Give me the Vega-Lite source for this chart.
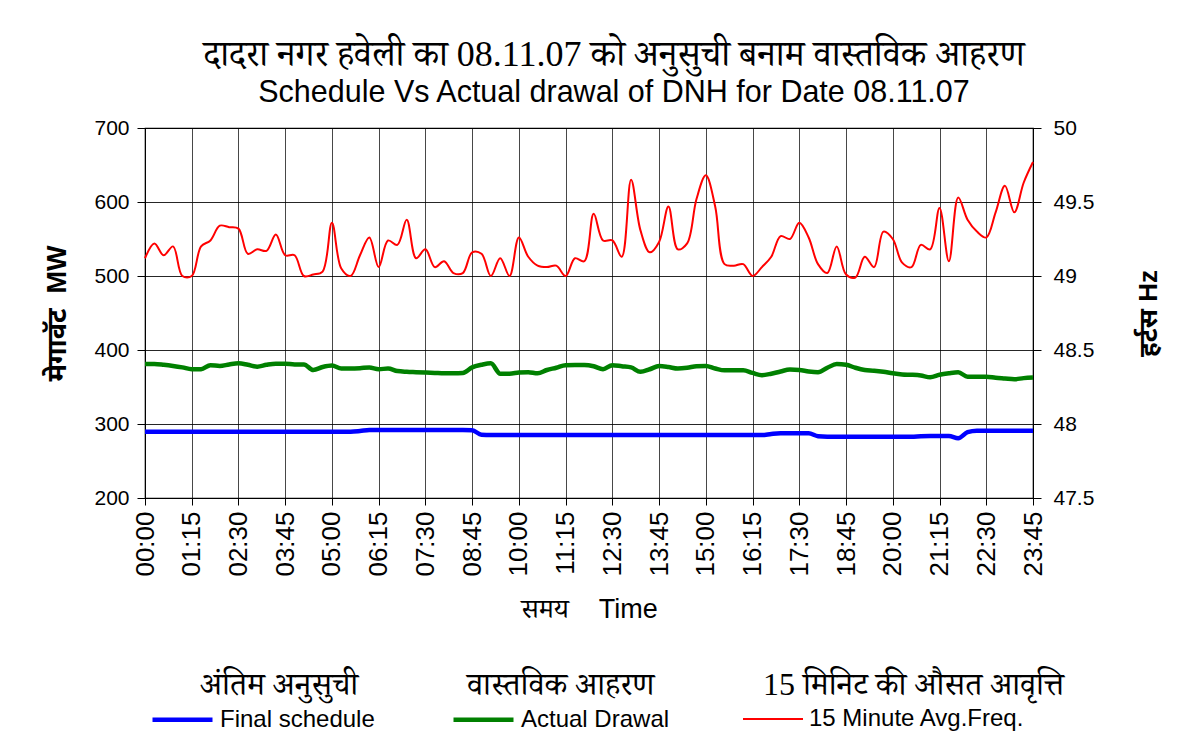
{
  "$schema": "https://vega.github.io/schema/vega-lite/v6.json",
  "width": 888,
  "height": 370,
  "autosize": {"type": "none"},
  "padding": {"left": 145, "top": 128, "right": 160, "bottom": 258},
  "background": "white",
  "config": {
    "view": {"stroke": "#000", "strokeWidth": 1.2},
    "axis": {"domainColor": "#000", "tickColor": "#000", "labelColor": "#000", "titleColor": "#000", "gridColor": "#000", "gridWidth": 1, "gridOpacity": 0.85, "labelFont": "Liberation Sans", "labelFontSize": 21, "labelFontWeight": "normal"}
  },
  "title": {
    "text": "दादरा नगर हवेली का 08.11.07 को अनुसुची बनाम वास्तविक आहरण",
    "subtitle": "Schedule Vs Actual drawal of DNH for Date 08.11.07",
    "font": "Liberation Serif, Noto Serif Devanagari, serif",
    "fontSize": 36,
    "fontWeight": "normal",
    "color": "#000",
    "subtitleFont": "Liberation Sans",
    "subtitleFontSize": 30.5,
    "subtitleColor": "#000",
    "subtitlePadding": 4,
    "anchor": "middle",
    "dx": 25,
    "offset": 8
  },
  "datasets": {
    "names": [
      {"k": "s", "hi": "अंतिम अनुसुची"},
      {"k": "a", "hi": "वास्तविक आहरण"},
      {"k": "f", "hi": "15 मिनिट की औसत आवृत्ति"}
    ]
  },
  "data": {"values": [
    {"t":"00:00","s":289.6,"a":381,"f":49.12},
    {"t":"00:15","s":289.6,"a":381,"f":49.22},
    {"t":"00:30","s":289.6,"a":380,"f":49.14},
    {"t":"00:45","s":289.6,"a":378.5,"f":49.20},
    {"t":"01:00","s":289.6,"a":376.5,"f":49.0},
    {"t":"01:15","s":289.6,"a":374,"f":49.0},
    {"t":"01:30","s":289.6,"a":374,"f":49.20},
    {"t":"01:45","s":289.6,"a":379.5,"f":49.24},
    {"t":"02:00","s":289.6,"a":378.5,"f":49.34},
    {"t":"02:15","s":289.6,"a":380.5,"f":49.33},
    {"t":"02:30","s":289.6,"a":382,"f":49.32},
    {"t":"02:45","s":289.6,"a":380,"f":49.15},
    {"t":"03:00","s":289.6,"a":377.5,"f":49.18},
    {"t":"03:15","s":289.6,"a":380,"f":49.17},
    {"t":"03:30","s":289.6,"a":381.5,"f":49.28},
    {"t":"03:45","s":289.6,"a":381.5,"f":49.14},
    {"t":"04:00","s":289.6,"a":380.5,"f":49.14},
    {"t":"04:15","s":289.6,"a":380.5,"f":49.0},
    {"t":"04:30","s":289.6,"a":373,"f":49.01},
    {"t":"04:45","s":289.6,"a":377,"f":49.03},
    {"t":"05:00","s":289.6,"a":379,"f":49.36},
    {"t":"05:15","s":289.6,"a":375,"f":49.05},
    {"t":"05:30","s":289.6,"a":375,"f":49.0},
    {"t":"05:45","s":290.5,"a":375.5,"f":49.14},
    {"t":"06:00","s":291.9,"a":376.5,"f":49.26},
    {"t":"06:15","s":291.9,"a":374,"f":49.06},
    {"t":"06:30","s":291.9,"a":375,"f":49.24},
    {"t":"06:45","s":291.9,"a":371.5,"f":49.21},
    {"t":"07:00","s":291.9,"a":370.5,"f":49.38},
    {"t":"07:15","s":291.9,"a":370,"f":49.12},
    {"t":"07:30","s":291.9,"a":369.5,"f":49.18},
    {"t":"07:45","s":291.9,"a":369,"f":49.06},
    {"t":"08:00","s":291.9,"a":368.5,"f":49.10},
    {"t":"08:15","s":291.9,"a":368.5,"f":49.02},
    {"t":"08:30","s":291.9,"a":369,"f":49.02},
    {"t":"08:45","s":291.5,"a":376.5,"f":49.16},
    {"t":"09:00","s":285.5,"a":380,"f":49.15},
    {"t":"09:15","s":285.1,"a":382,"f":49.0},
    {"t":"09:30","s":285.1,"a":368,"f":49.12},
    {"t":"09:45","s":285.1,"a":368,"f":49.0},
    {"t":"10:00","s":285.1,"a":369.5,"f":49.26},
    {"t":"10:15","s":285.1,"a":370,"f":49.13},
    {"t":"10:30","s":285.1,"a":368.5,"f":49.07},
    {"t":"10:45","s":285.1,"a":373,"f":49.06},
    {"t":"11:00","s":285.1,"a":376,"f":49.07},
    {"t":"11:15","s":285.1,"a":379.5,"f":49.0},
    {"t":"11:30","s":285.1,"a":379.7,"f":49.12},
    {"t":"11:45","s":285.1,"a":379.7,"f":49.10},
    {"t":"12:00","s":285.1,"a":378,"f":49.42},
    {"t":"12:15","s":285.1,"a":374,"f":49.24},
    {"t":"12:30","s":285.1,"a":379.5,"f":49.24},
    {"t":"12:45","s":285.1,"a":378,"f":49.13},
    {"t":"13:00","s":285.1,"a":376.5,"f":49.65},
    {"t":"13:15","s":285.1,"a":370.5,"f":49.31},
    {"t":"13:30","s":285.1,"a":374,"f":49.16},
    {"t":"13:45","s":285.1,"a":378.3,"f":49.23},
    {"t":"14:00","s":285.1,"a":377,"f":49.47},
    {"t":"14:15","s":285.1,"a":375,"f":49.18},
    {"t":"14:30","s":285.1,"a":376,"f":49.22},
    {"t":"14:45","s":285.1,"a":378,"f":49.52},
    {"t":"15:00","s":285.1,"a":378.5,"f":49.68},
    {"t":"15:15","s":285.1,"a":375,"f":49.47},
    {"t":"15:30","s":285.1,"a":372.5,"f":49.08},
    {"t":"15:45","s":285.1,"a":372.5,"f":49.07},
    {"t":"16:00","s":285.1,"a":372.5,"f":49.08},
    {"t":"16:15","s":285.1,"a":369,"f":49.0},
    {"t":"16:30","s":285.1,"a":366,"f":49.06},
    {"t":"16:45","s":286.5,"a":368,"f":49.13},
    {"t":"17:00","s":287.4,"a":371,"f":49.27},
    {"t":"17:15","s":287.4,"a":373.5,"f":49.25},
    {"t":"17:30","s":287.4,"a":373,"f":49.36},
    {"t":"17:45","s":287.4,"a":371,"f":49.26},
    {"t":"18:00","s":283.5,"a":370,"f":49.08},
    {"t":"18:15","s":282.9,"a":376,"f":49.02},
    {"t":"18:30","s":282.9,"a":381,"f":49.20},
    {"t":"18:45","s":282.9,"a":380,"f":49.01},
    {"t":"19:00","s":282.9,"a":376,"f":48.99},
    {"t":"19:15","s":282.9,"a":373,"f":49.13},
    {"t":"19:30","s":282.9,"a":372,"f":49.06},
    {"t":"19:45","s":282.9,"a":370.5,"f":49.30},
    {"t":"20:00","s":282.9,"a":368.5,"f":49.25},
    {"t":"20:15","s":282.9,"a":367,"f":49.09},
    {"t":"20:30","s":282.9,"a":366.5,"f":49.06},
    {"t":"20:45","s":283.5,"a":365.5,"f":49.21},
    {"t":"21:00","s":283.8,"a":363.2,"f":49.18},
    {"t":"21:15","s":283.8,"a":366.5,"f":49.46},
    {"t":"21:30","s":283.8,"a":368.5,"f":49.10},
    {"t":"21:45","s":280.8,"a":369.8,"f":49.53},
    {"t":"22:00","s":289,"a":364,"f":49.38},
    {"t":"22:15","s":291,"a":364,"f":49.30},
    {"t":"22:30","s":291,"a":364,"f":49.26},
    {"t":"22:45","s":291,"a":362.5,"f":49.43},
    {"t":"23:00","s":291,"a":361.5,"f":49.61},
    {"t":"23:15","s":291,"a":360.5,"f":49.43},
    {"t":"23:30","s":291,"a":362,"f":49.63},
    {"t":"23:45","s":291,"a":362.7,"f":49.77}
  ]},
  "encoding": {
    "x": {
      "field": "t", "type": "ordinal",
      "scale": {"type": "point", "padding": 0},
      "axis": {
        "labelExpr": "(toNumber(slice(datum.value, 0, 2)) * 4 + toNumber(slice(datum.value, 3, 5)) / 15) % 5 == 0 ? datum.value : ''",
        "tickOpacity": {"condition": {"test": "(toNumber(slice(datum.value, 0, 2)) * 4 + toNumber(slice(datum.value, 3, 5)) / 15) % 5 == 0", "value": 1}, "value": 0},
        "gridOpacity": {"condition": {"test": "(toNumber(slice(datum.value, 0, 2)) * 4 + toNumber(slice(datum.value, 3, 5)) / 15) % 5 == 0", "value": 0.85}, "value": 0},
        "labelAngle": -90, "labelOverlap": false, "labelBound": false, "labelFlush": false, "labelFontSize": 26,
        "grid": true, "tickSize": 7, "labelPadding": 6,
        "title": "समय\u00a0\u00a0\u00a0\u00a0Time", "titleFont": "Liberation Sans, Noto Serif Devanagari, sans-serif", "titleFontSize": 27, "titleFontWeight": "normal", "titlePadding": 20
      }
    },
    "color": {
      "field": "series", "type": "nominal",
      "scale": {"domain": ["s", "a", "f"], "range": ["#0000ff", "#008000", "#ff0000"]},
      "legend": {
        "title": null, "orient": "none", "legendX": 5, "legendY": 559, "direction": "horizontal",
        "symbolType": "stroke", "symbolSize": 3600, "labelOffset": 5, "columnPadding": 69,
        "labelFont": "Liberation Sans", "labelFontSize": 24, "labelColor": "#000", "labelLimit": 400,
        "labelExpr": "datum.value == 's' ? 'Final schedule' : datum.value == 'a' ? 'Actual Drawal' : '15 Minute Avg.Freq.'"
      }
    },
    "strokeWidth": {
      "field": "series", "type": "nominal",
      "scale": {"type": "ordinal", "domain": ["s", "a", "f"], "range": [4.5, 4.5, 2]},
      "legend": {
        "title": null, "orient": "none", "legendX": 5, "legendY": 559, "direction": "horizontal",
        "symbolType": "stroke", "symbolSize": 3600, "labelOffset": 5, "columnPadding": 69,
        "labelFont": "Liberation Sans", "labelFontSize": 24, "labelColor": "#000", "labelLimit": 400,
        "labelExpr": "datum.value == 's' ? 'Final schedule' : datum.value == 'a' ? 'Actual Drawal' : '15 Minute Avg.Freq.'"
      }
    },
    "opacity": {
      "field": "hi", "type": "nominal",
      "scale": {"type": "ordinal", "domain": ["अंतिम अनुसुची", "वास्तविक आहरण", "15 मिनिट की औसत आवृत्ति"], "range": [1, 1, 1]},
      "legend": {
        "title": null, "orient": "none", "legendX": 23, "legendY": 541, "direction": "horizontal",
        "symbolSize": 0, "symbolStrokeWidth": 0, "labelOffset": 0, "columnPadding": 76,
        "labelFont": "Liberation Serif, Noto Serif Devanagari, serif", "labelFontSize": 32, "labelColor": "#000", "labelLimit": 500
      }
    }
  },
  "layer": [
    {
      "transform": [
        {"fold": ["s", "a"], "as": ["series", "mw"]},
        {"lookup": "series", "from": {"data": {"name": "names"}, "key": "k", "fields": ["hi"]}}
      ],
      "mark": {"type": "line", "interpolate": "monotone"},
      "encoding": {
        "y": {
          "field": "mw", "type": "quantitative",
          "scale": {"domain": [200, 700], "nice": false, "zero": false},
          "axis": {
            "values": [200, 300, 400, 500, 600, 700], "grid": true, "orient": "left", "tickSize": 8, "labelPadding": 8,
            "title": "मेगावॅट\u00a0\u00a0MW", "titleFont": "Liberation Sans, Noto Sans Devanagari, sans-serif", "titleFontSize": 27, "titleFontWeight": "bold", "titlePadding": 22
          }
        }
      }
    },
    {
      "transform": [
        {"fold": ["f"], "as": ["series", "hz"]},
        {"lookup": "series", "from": {"data": {"name": "names"}, "key": "k", "fields": ["hi"]}}
      ],
      "mark": {"type": "line", "interpolate": "catmull-rom"},
      "encoding": {
        "y": {
          "field": "hz", "type": "quantitative",
          "scale": {"domain": [47.5, 50], "nice": false, "zero": false},
          "axis": {
            "values": [47.5, 48, 48.5, 49, 49.5, 50], "format": "~g", "grid": false, "orient": "right", "tickSize": 8, "labelPadding": 12,
            "title": "हर्टस Hz", "titleAngle": 270, "titleFont": "Liberation Sans, Noto Sans Devanagari, sans-serif", "titleFontSize": 26, "titleFontWeight": "bold", "titlePadding": 68
          }
        }
      }
    }
  ],
  "resolve": {"scale": {"y": "independent"}}
}
